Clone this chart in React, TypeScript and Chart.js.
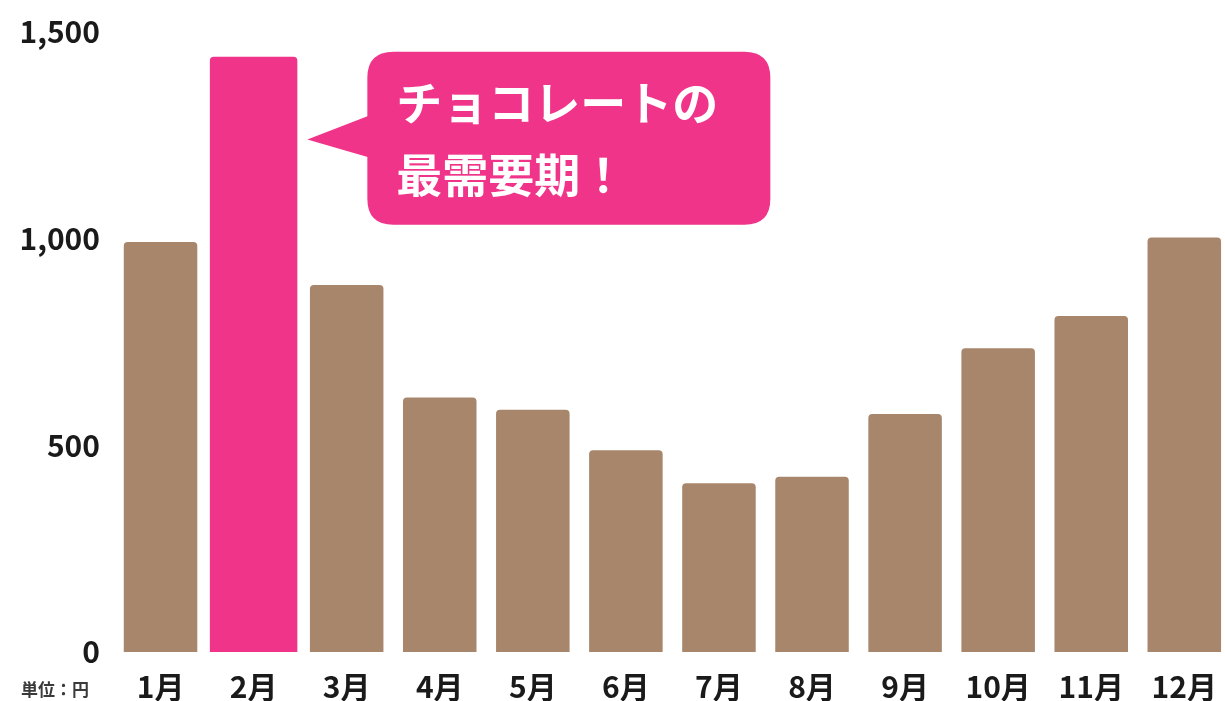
import React, { useEffect, useRef } from "react";
import { Chart, registerables } from "chart.js";

Chart.register(...registerables);

const months = ["1月", "2月", "3月", "4月", "5月", "6月", "7月", "8月", "9月", "10月", "11月", "12月"];
const spending = [992, 1440, 888, 616, 586, 488, 408, 424, 576, 735, 813, 1003];
const highlightIndex = 1;
const yTicks = [0, 500, 1000, 1500];
const calloutLines = ["チョコレートの", "最需要期！"];
const unitLabel = "単位：円";

const BROWN = "#A8866C";
const PINK = "#EF3489";
const FONT = "'Noto Sans CJK JP', 'Noto Sans', sans-serif";

const baseValues = spending.map((v, i) => (i === highlightIndex ? null : v));
const highlightValues = spending.map((v, i) => (i === highlightIndex ? v : null));

function roundRect(ctx: CanvasRenderingContext2D, x: number, y: number, w: number, h: number, r: number) {
  ctx.beginPath();
  ctx.moveTo(x + r, y);
  ctx.lineTo(x + w - r, y);
  ctx.quadraticCurveTo(x + w, y, x + w, y + r);
  ctx.lineTo(x + w, y + h - r);
  ctx.quadraticCurveTo(x + w, y + h, x + w - r, y + h);
  ctx.lineTo(x + r, y + h);
  ctx.quadraticCurveTo(x, y + h, x, y + h - r);
  ctx.lineTo(x, y + r);
  ctx.quadraticCurveTo(x, y, x + r, y);
  ctx.closePath();
}

const calloutPlugin = {
  id: "callout",
  afterDraw(chart: any) {
    const ctx: CanvasRenderingContext2D = chart.ctx;
    const meta = chart.getDatasetMeta(1);
    const bar = meta.data[highlightIndex];
    if (!bar) return;
    const yScale = chart.scales.y;
    const right = bar.x + bar.width / 2;
    const tipX = right + 10;
    const tipY = yScale.getPixelForValue(1240);
    const boxX = tipX + 60;
    const boxY = yScale.getPixelForValue(1452);
    const boxW = 403;
    const boxH = 173;
    ctx.save();
    ctx.fillStyle = PINK;
    roundRect(ctx, boxX, boxY, boxW, boxH, 26);
    ctx.fill();
    ctx.beginPath();
    ctx.moveTo(tipX, tipY);
    ctx.lineTo(boxX + 2, tipY - 24);
    ctx.lineTo(boxX + 2, tipY + 18);
    ctx.closePath();
    ctx.fill();
    ctx.fillStyle = "#ffffff";
    ctx.font = `bold 46px ${FONT}`;
    ctx.textBaseline = "middle";
    ctx.textAlign = "left";
    ctx.fillText(calloutLines[0], boxX + 29, boxY + 51);
    ctx.fillText(calloutLines[1], boxX + 29, boxY + 123);
    ctx.restore();

    ctx.save();
    ctx.fillStyle = "#3a3a3a";
    ctx.font = `bold 17px ${FONT}`;
    ctx.textAlign = "left";
    ctx.textBaseline = "middle";
    ctx.fillText(unitLabel, 21, chart.chartArea.bottom + 38);
    ctx.restore();
  },
};

export default function App() {
  const ref = useRef<HTMLCanvasElement | null>(null);
  useEffect(() => {
    if (!ref.current) return;
    const chart = new Chart(ref.current, {
      type: "bar",
      data: {
        labels: months,
        datasets: [
          {
            data: baseValues as any,
            backgroundColor: BROWN,
            barPercentage: 0.79,
            categoryPercentage: 1,
            borderRadius: 4,
            borderSkipped: "bottom",
            grouped: false,
          } as any,
          {
            data: highlightValues as any,
            backgroundColor: PINK,
            barPercentage: 0.94,
            categoryPercentage: 1,
            borderRadius: 4,
            borderSkipped: "bottom",
            grouped: false,
          } as any,
        ],
      },
      options: {
        responsive: false,
        animation: false,
        layout: { padding: { top: 30, left: 0, right: 0, bottom: 0 } },
        plugins: { legend: { display: false }, tooltip: { enabled: false } },
        scales: {
          x: {
            grid: { display: false, drawTicks: false },
            border: { display: false },
            ticks: {
              color: "#1a1a1a",
              font: { family: FONT, size: 30, weight: "bold" },
              padding: 17,
            },
            afterFit: (s: any) => {
              s.height = 49;
            },
          },
          y: {
            min: 0,
            max: 1500,
            afterBuildTicks: (s: any) => {
              s.ticks = yTicks.map((v) => ({ value: v }));
            },
            grid: { display: false, drawTicks: false },
            border: { display: false },
            ticks: {
              color: "#1a1a1a",
              font: { family: FONT, size: 30, weight: "bold" },
              padding: 14,
              callback: (v: any) => Number(v).toLocaleString("en-US"),
            },
            afterFit: (s: any) => {
              s.width = 114;
            },
          },
        },
      },
      plugins: [calloutPlugin],
    });
    return () => chart.destroy();
  }, []);
  return (
    <div style={{ position: "absolute", left: 0, top: 0, width: 1225, height: 701, overflow: "hidden", background: "#fff" }}>
      <canvas ref={ref} width={1234} height={701} style={{ display: "block", width: 1234, height: 701 }} />
    </div>
  );
}
